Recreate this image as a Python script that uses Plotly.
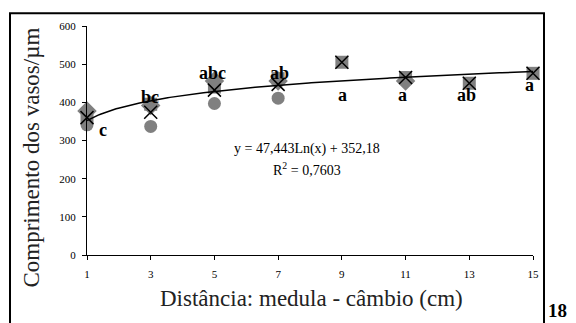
import numpy as np
import plotly.graph_objects as go

# data
x_circle = [1, 3, 5, 7]
y_circle = [341, 337, 397, 411]
x_diamond = [1, 3, 5, 7, 11]
y_diamond = [377, 392, 456, 456, 456]
x_square = [1, 3, 5, 7, 9, 11, 13, 15]
y_square = [362, 395, 440, 462, 505, 465, 450, 476]
x_mean = [1, 3, 5, 7, 9, 11, 13, 15]
y_mean = [360, 374, 432, 447, 505, 465, 450, 476]
trend_a, trend_b = 47.443, 352.18
letters = ["c", "bc", "abc", "ab", "a", "a", "ab", "a"]
letter_x = [1.5, 2.98, 4.95, 7.03, 9.03, 10.9, 12.9, 14.9]
letter_y = [328, 413, 478, 478, 418, 418, 418, 445]
x_ticks = [1, 3, 5, 7, 9, 11, 13, 15]

FONT = "Liberation Serif, Times New Roman, serif"
GRAY = "#808080"

fig = go.Figure()
fig.add_trace(go.Scatter(x=x_circle, y=y_circle, mode="markers", cliponaxis=False,
                         marker=dict(symbol="circle", size=13, color=GRAY)))
fig.add_trace(go.Scatter(x=x_diamond, y=y_diamond, mode="markers", cliponaxis=False,
                         marker=dict(symbol="diamond", size=15, color=GRAY)))
fig.add_trace(go.Scatter(x=x_square, y=y_square, mode="markers", cliponaxis=False,
                         marker=dict(symbol="square", size=13, color=GRAY)))
xs = np.linspace(1, 15, 200)
fig.add_trace(go.Scatter(x=xs, y=trend_a * np.log(xs) + trend_b, mode="lines",
                         line=dict(color="black", width=1.5), cliponaxis=False))
fig.add_trace(go.Scatter(x=x_mean, y=y_mean, mode="markers", cliponaxis=False,
                         marker=dict(symbol="x-thin-open", size=13, color="black",
                                     line=dict(color="black", width=1.5))))

for t, lx, ly in zip(letters, letter_x, letter_y):
    fig.add_annotation(x=lx, y=ly, text="<b>%s</b>" % t, showarrow=False,
                       font=dict(family=FONT, size=18, color="black"))

fig.add_annotation(x=7.9, y=278, text="y = 47,443Ln(x) + 352,18", showarrow=False,
                   font=dict(family=FONT, size=14, color="black"))
fig.add_annotation(x=7.9, y=226, text="R<sup>2</sup> = 0,7603", showarrow=False,
                   font=dict(family=FONT, size=14, color="black"))

fig.add_annotation(xref="paper", yref="paper", x=(557 - 87) / 446, y=(255 - 312) / 235,
                   xanchor="center", yanchor="middle",
                   text="<b>18</b>", showarrow=False,
                   font=dict(family=FONT, size=19, color="black"))
fig.add_annotation(xref="paper", yref="paper", x=(311 - 87) / 446, y=(255 - 300) / 235,
                   xanchor="center", yanchor="middle",
                   text="Distância: medula - câmbio (cm)", showarrow=False,
                   font=dict(family=FONT, size=23, color="#222"))
fig.add_annotation(xref="paper", yref="paper", x=(32 - 87) / 446, y=(255 - 155) / 235,
                   xanchor="center", yanchor="middle",
                   text="Comprimento dos vasos/µm", showarrow=False, textangle=-90,
                   font=dict(family=FONT, size=23, color="#222"))

fig.add_shape(type="rect", xref="paper", yref="paper",
              x0=(10 - 87) / 446, x1=(544 - 87) / 446,
              y0=(255 - 340) / 235, y1=(255 - 7) / 235,
              line=dict(color="black", width=2))

fig.update_layout(
    width=568, height=315, showlegend=False,
    margin=dict(l=79, r=43, t=12, b=68),
    paper_bgcolor="white", plot_bgcolor="white",
    font=dict(family=FONT, size=12, color="black"),
    xaxis=dict(range=[1, 15], tickvals=x_ticks, showgrid=False, zeroline=False,
               showline=True, linecolor="black", linewidth=1, ticks="outside",
               ticklen=4, tickcolor="black", ticklabelstandoff=5,
               tickfont=dict(family=FONT, size=11)),
    yaxis=dict(range=[0, 600], dtick=100, showgrid=False, zeroline=False,
               showline=True, linecolor="black", linewidth=1, ticks="outside",
               ticklen=4, tickcolor="black", ticklabelstandoff=4,
               tickfont=dict(family=FONT, size=11)),
)

fig.write_html("out.html")
